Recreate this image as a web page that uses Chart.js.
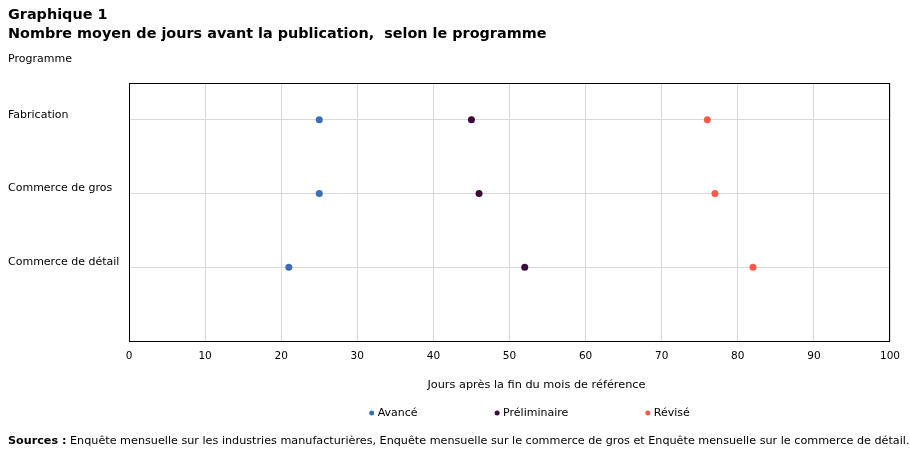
<!DOCTYPE html>
<html><head><meta charset="utf-8">
<script src="https://cdn.jsdelivr.net/npm/chart.js@4/dist/chart.umd.min.js"></script>
<style>
html,body{margin:0;padding:0;background:#fff;}
#wrap{position:relative;width:910px;height:455px;overflow:hidden;}
#c{position:absolute;left:0;top:0;}
.t{position:absolute;left:8px;font-family:"DejaVu Sans",Verdana,sans-serif;color:#000;white-space:nowrap;}
#t1{top:6px;font-size:14.4px;font-weight:bold;}
#t2{top:25px;font-size:14.4px;font-weight:bold;}
#yt{top:52px;font-size:11px;}
#src{top:434px;font-size:11.2px;}
</style></head>
<body><div id="wrap">
<canvas id="c" width="910" height="455"></canvas>
<div class="t" id="t1">Graphique&nbsp;1</div>
<div class="t" id="t2">Nombre moyen de jours avant la publication,&nbsp; selon le programme</div>
<div class="t" id="yt">Programme</div>
<div class="t" id="src"><b>Sources :</b> Enquête mensuelle sur les industries manufacturières, Enquête mensuelle sur le commerce de gros et Enquête mensuelle sur le commerce de détail.</div>
</div>
<script>
const categories = ['Fabrication', 'Commerce de gros', 'Commerce de détail'];
const seriesNames = ['Avancé', 'Préliminaire', 'Révisé'];
const avance = [25, 25, 21];
const preliminaire = [45, 46, 52];
const revise = [76, 77, 82];
const xTickValues = [0, 10, 20, 30, 40, 50, 60, 70, 80, 90, 100];
const xTitle = 'Jours après la fin du mois de référence';

const colors = ['#3a6fb7', '#3c0b3e', '#fe5a46'];
const series = [avance, preliminaire, revise];
const FONT = '"DejaVu Sans", Verdana, sans-serif';

const datasets = series.map((vals, s) => ({
  label: seriesNames[s],
  data: vals.map((v, i) => ({x: v, y: i + 1})),
  backgroundColor: colors[s],
  borderColor: colors[s],
  pointRadius: 3.5,
  pointHoverRadius: 3.5,
  borderWidth: 0,
  showLine: false
}));

const boxPlugin = {
  id: 'box',
  afterDatasetsDraw(chart) {
    const a = chart.chartArea, ctx = chart.ctx;
    ctx.save();
    ctx.strokeStyle = '#000';
    ctx.lineWidth = 1;
    ctx.strokeRect(Math.round(a.left) + 0.5, Math.round(a.top) + 0.5, Math.round(a.right - a.left) - 1, Math.round(a.bottom - a.top));
    ctx.restore();
  }
};

const xTitlePlugin = {
  id: 'xTitle',
  afterDraw(chart) {
    const ctx = chart.ctx, a = chart.chartArea;
    ctx.save();
    ctx.font = '11.3px ' + FONT;
    ctx.fillStyle = '#000';
    ctx.textAlign = 'center';
    ctx.textBaseline = 'middle';
    ctx.fillText(xTitle, (a.left + a.right) / 2 + 27, a.bottom + 44);
    ctx.restore();
  }
};

const legendPlugin = {
  id: 'customLegend',
  afterDraw(chart) {
    const ctx = chart.ctx;
    ctx.save();
    ctx.font = '11px ' + FONT;
    ctx.textBaseline = 'middle';
    ctx.textAlign = 'left';
    const gap = 77, dotW = 8.5;
    const items = chart.data.datasets.map(d => ({label: d.label, color: d.backgroundColor, w: dotW + ctx.measureText(d.label).width}));
    const total = items.reduce((s, it) => s + it.w, 0) + gap * (items.length - 1);
    const cx = (chart.chartArea.left + chart.chartArea.right) / 2 + 20;
    let x = cx - total / 2;
    const y = 413;
    items.forEach(it => {
      ctx.fillStyle = it.color;
      ctx.beginPath();
      ctx.arc(x + 2.5, y, 2.5, 0, Math.PI * 2);
      ctx.fill();
      ctx.fillStyle = '#000';
      ctx.fillText(it.label, x + dotW, y);
      x += it.w + gap;
    });
    ctx.restore();
  }
};

new Chart(document.getElementById('c'), {
  type: 'scatter',
  data: {datasets},
  options: {
    responsive: false,
    animation: false,
    events: [],
    layout: {padding: {left: 8, right: 20, top: 83, bottom: 62}},
    plugins: {legend: {display: false}, tooltip: {enabled: false}, title: {display: false}},
    scales: {
      x: {
        type: 'linear', min: 0, max: 100,
        afterBuildTicks: s => { s.ticks = xTickValues.map(v => ({value: v})); },
        afterFit: s => { s.height = 52; },
        grid: {color: '#d9d9d9', drawTicks: false, lineWidth: 1},
        border: {display: false},
        ticks: {padding: 9, color: '#000', font: {family: FONT, size: 10.5}, maxRotation: 0},
        title: {display: false}
      },
      y: {
        type: 'linear', min: 0.5, max: 4, reverse: true,
        afterBuildTicks: s => { s.ticks = categories.map((c, i) => ({value: i + 1})); },
        afterFit: s => { s.width = 121; },
        grid: {color: '#d9d9d9', drawTicks: false, lineWidth: 1},
        border: {display: false},
        ticks: {
          crossAlign: 'far', labelOffset: -5, padding: 0, color: '#000',
          font: {family: FONT, size: 11},
          callback: v => categories[v - 1]
        }
      }
    }
  },
  plugins: [boxPlugin, xTitlePlugin, legendPlugin]
});
</script>
</body></html>
